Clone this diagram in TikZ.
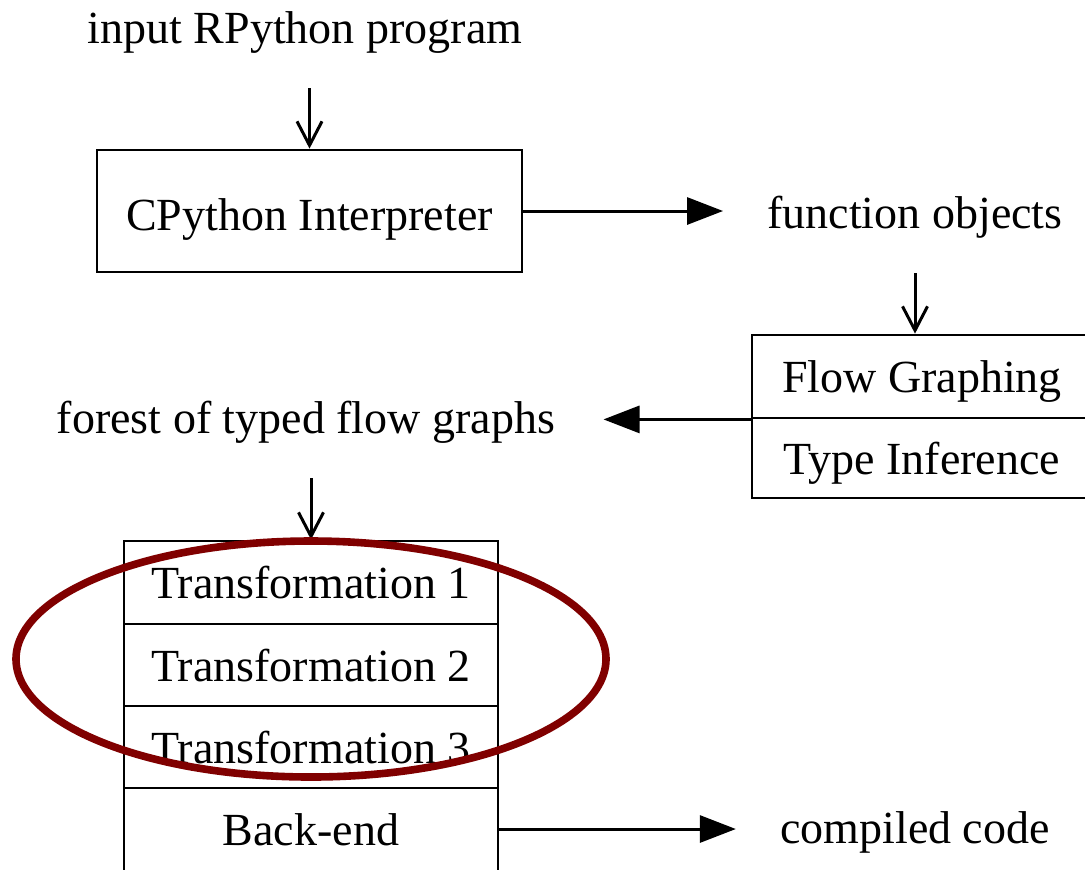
\documentclass[tikz,border=0pt]{standalone}
\usepackage{fontspec}
\setmainfont{Liberation Serif}
\usetikzlibrary{arrows.meta}
\definecolor{hilitered}{RGB}{128,0,0}
\begin{document}
\begin{tikzpicture}[x=0.5pt,y=-0.5pt,
  every node/.style={font=\fontsize{23}{28}\selectfont},
  stage/.style={draw, line width=1.4pt, inner sep=0pt, anchor=center,
    text height=19pt, text depth=3pt},
  lbl/.style={inner xsep=22pt, inner ysep=17.5pt, text depth=5pt, anchor=base},
  flowto/.style={line width=1.5pt, -{Straight Barb[length=12pt,width=12.5pt,line width=1.5pt]}},
  bigto/.style={line width=1.5pt, -{Triangle[length=18pt,width=13.5pt]}},
  hilite/.style={draw=hilitered, line width=3.8pt}]
  \path[use as bounding box] (0,0) rectangle (1085,869);
  \clip (0,0) rectangle (1085,869);

  % free-standing labels
  \node[lbl] (in)     at (305,43)  {input RPython program};
  \node[lbl] (fo)     at (915,228) {function objects};
  \node[lbl, inner xsep=24pt] (forest) at (306,433) {forest of typed flow graphs};
  \node[lbl] (cc)     at (915,843) {compiled code};

  % processing stages
  \node[stage, minimum width=212.5pt, minimum height=61pt, text height=22pt]
    (cpy) at (309.5,211) {CPython Interpreter};
  \node[stage, minimum width=170pt, minimum height=41.5pt] (flow) at (922,376.5) {Flow Graphing};
  \node[stage, minimum width=170pt, minimum height=40pt]   (type) at (922,458)   {Type Inference};
  \node[stage, minimum width=187pt, minimum height=41.5pt] (t1) at (311,582.5) {Transformation 1};
  \node[stage, minimum width=187pt, minimum height=41pt]   (t2) at (311,665)   {Transformation 2};
  \node[stage, minimum width=187pt, minimum height=41pt]   (t3) at (311,747)   {Transformation 3};
  \node[stage, minimum width=187pt, minimum height=43pt, text height=17pt]
    (be) at (311,831) {Back-end};

  % connectors
  \draw[flowto] (cpy.north |- in.south) -- (cpy.north);
  \draw[bigto]  (cpy.east) -- (cpy.east -| fo.west);
  \draw[flowto] (fo.south) -- (fo.south |- flow.north);
  \draw[bigto]  (flow.south west) -- (flow.south west -| forest.east);
  \draw[flowto] (t1.north |- forest.south) -- (t1.north);
  \draw[bigto]  ([yshift=1pt]be.east) -- ([yshift=1pt]be.east -| cc.west);

  % highlight around the transformation passes
  \coordinate (hc) at (311,659);
  \draw[hilite] (hc) ellipse [x radius=295, y radius=118];
\end{tikzpicture}
\end{document}
